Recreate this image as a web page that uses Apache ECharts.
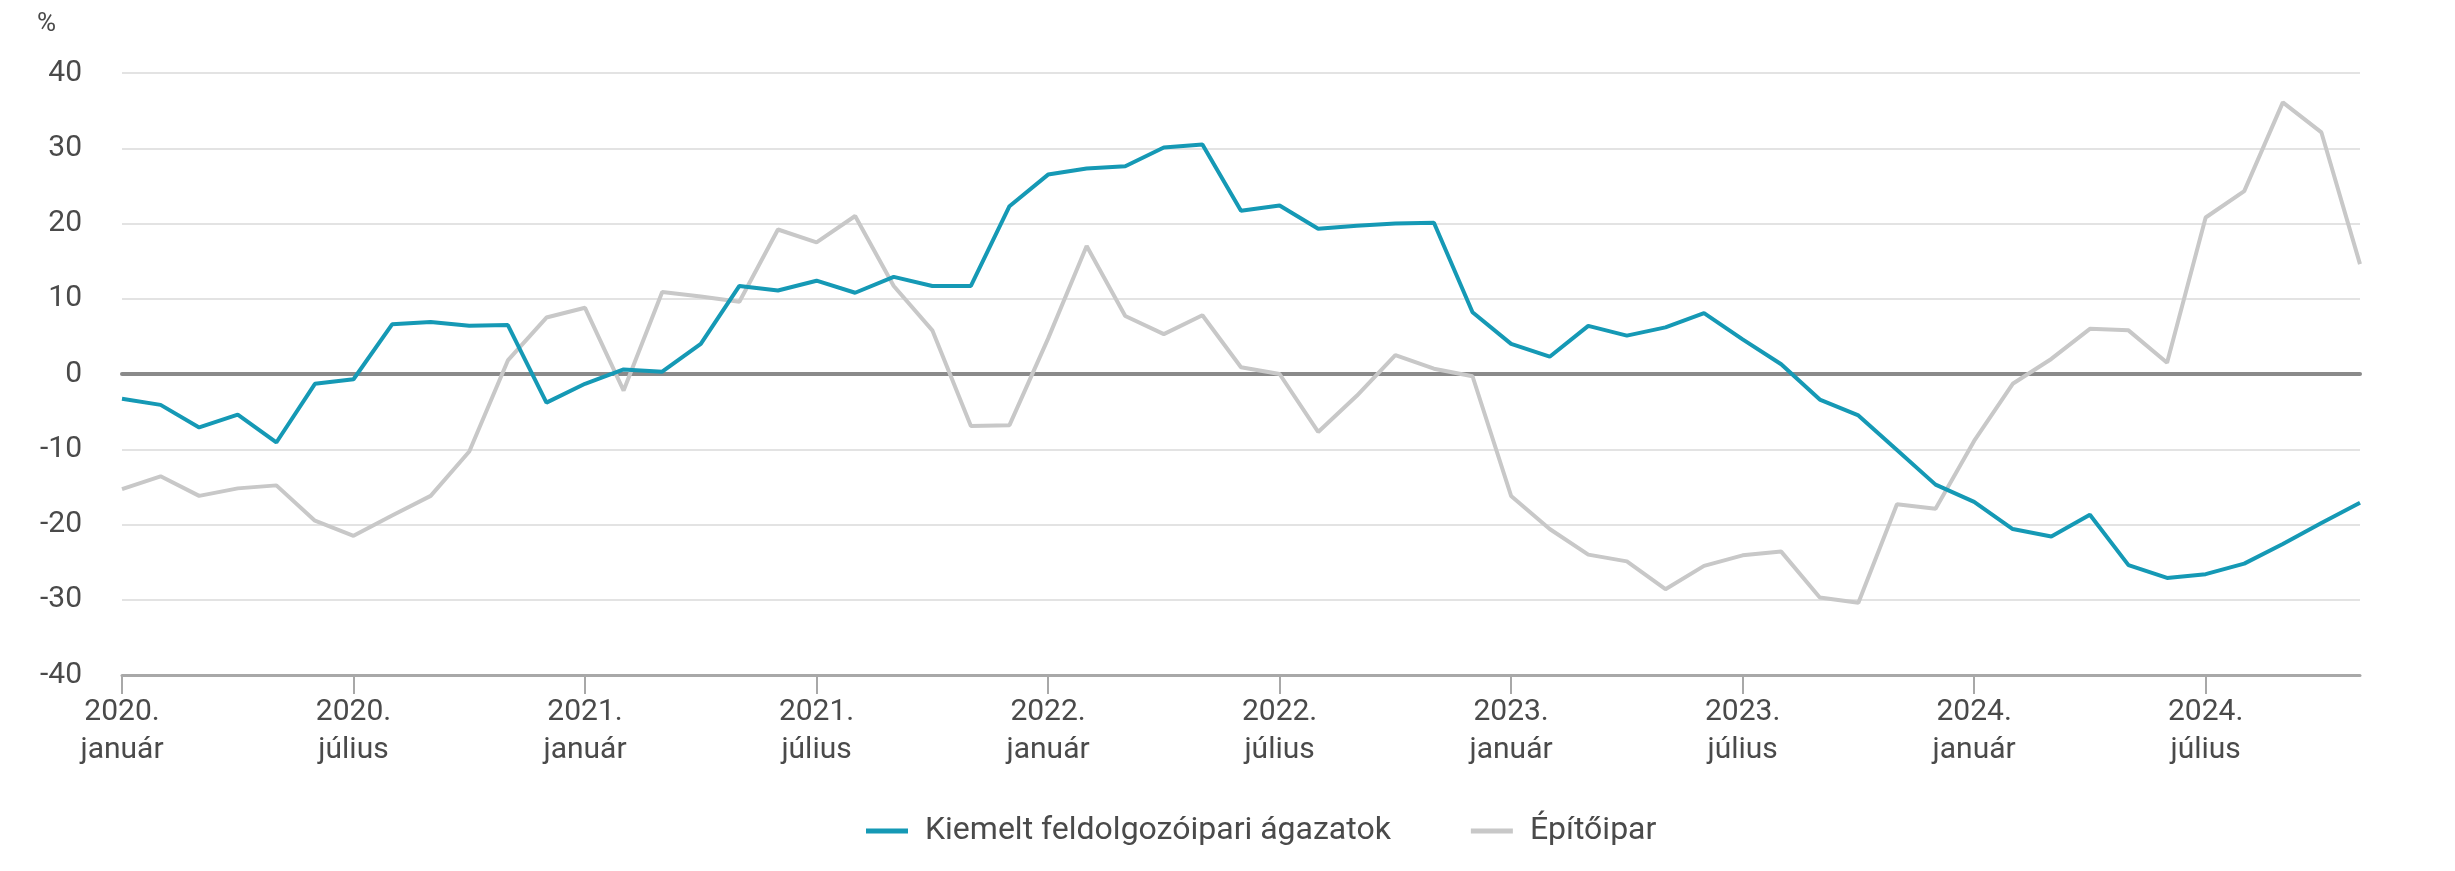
<!DOCTYPE html>
<html>
<head>
<meta charset="utf-8">
<script src="https://cdn.jsdelivr.net/npm/echarts@6/dist/echarts.min.js"></script>
<style>
  html, body { margin: 0; padding: 0; background: #fff; }
  #chart { width: 2455px; height: 871px; }
</style>
</head>
<body>
<div id="chart"></div>
<script>
var years = ['2020', '2021', '2022', '2023', '2024'];
var monthNames = ['január', 'február', 'március', 'április', 'május', 'június',
  'július', 'augusztus', 'szeptember', 'október', 'november', 'december'];
var monthCount = 59; // 2020. január – 2024. november

var categories = [];
for (var i = 0; i < monthCount; i++) {
  categories.push(years[Math.floor(i / 12)] + '.\n' + monthNames[i % 12]);
}

// Kiemelt feldolgozóipari ágazatok
var kiemelt = [-3.3, -4.1, -7.1, -5.4, -9.1, -1.3, -0.7, 6.6, 6.9, 6.4, 6.5, -3.8, -1.3,
  0.6, 0.3, 4.0, 11.7, 11.1, 12.4, 10.8, 12.9, 11.7, 11.7, 22.3, 26.5, 27.3, 27.6, 30.1, 30.5,
  21.7, 22.4, 19.3, 19.7, 20.0, 20.1, 8.2, 4.0, 2.3, 6.4, 5.1, 6.2, 8.1, 4.6, 1.3,
  -3.4, -5.5, -10.1, -14.7, -17.0, -20.6, -21.6, -18.7, -25.4, -27.1, -26.6, -25.2, -22.6, -19.8, -17.1];

// Építőipar
var epitoipar = [-15.3, -13.6, -16.2, -15.2, -14.8, -19.5, -21.5, -18.8, -16.2, -10.3, 1.8, 7.5, 8.8,
  -2.2, 10.9, 10.3, 9.6, 19.2, 17.5, 21.0, 11.7, 5.8, -6.9, -6.8, 4.7, 17.0, 7.7, 5.3, 7.8,
  0.9, 0.0, -7.7, -2.9, 2.5, 0.7, -0.3, -16.2, -20.6, -24.0, -24.9, -28.6, -25.5, -24.1, -23.6,
  -29.7, -30.4, -17.3, -17.9, -8.9, -1.3, 2.0, 6.0, 5.8, 1.5, 20.8, 24.3, 36.1, 32.1, 14.6];

var textColor = '#4a4a4a';
var font = 'Roboto';

var myChart = echarts.init(document.getElementById('chart'));
var options = {
  animation: false,
  textStyle: { fontFamily: font },
  title: {
    text: '%',
    left: 32,
    top: 6,
    textStyle: { fontSize: 26, fontWeight: 'normal', color: textColor, fontFamily: font }
  },
  legend: {
    top: 810,
    left: 861,
    padding: 5,
    icon: 'rect',
    itemWidth: 42,
    itemHeight: 5,
    itemGap: 80,
    textStyle: { fontSize: 32, color: textColor, fontFamily: font, padding: [0, 0, 0, 12] },
    data: ['Kiemelt feldolgozóipari ágazatok', 'Építőipar']
  },
  grid: {
    left: 122,
    right: 95,
    top: 73,
    bottom: 196
  },
  xAxis: [{
    type: 'category',
    data: categories,
    boundaryGap: false,
    axisLine: { onZero: false, lineStyle: { color: '#a8a8a8', width: 3 } },
    axisTick: { show: true, interval: 5, length: 19, lineStyle: { color: '#a8a8a8', width: 2 } },
    axisLabel: {
      interval: 5,
      color: textColor,
      fontSize: 30,
      fontFamily: font,
      lineHeight: 38,
      margin: 18
    },
    splitLine: { show: false }
  }, {
    // zero line
    type: 'category',
    data: categories,
    boundaryGap: false,
    position: 'bottom',
    axisLine: { onZero: true, lineStyle: { color: '#8a8a8a', width: 4 } },
    axisTick: { show: false },
    axisLabel: { show: false },
    splitLine: { show: false }
  }],
  yAxis: {
    type: 'value',
    min: -40,
    max: 40,
    interval: 10,
    axisLine: { show: false },
    axisTick: { show: false },
    axisLabel: { color: textColor, fontSize: 30, fontFamily: font, margin: 40 },
    splitLine: { lineStyle: { color: '#e3e3e3', width: 2 } }
  },
  series: [{
    name: 'Kiemelt feldolgozóipari ágazatok',
    type: 'line',
    data: kiemelt,
    symbol: 'none',
    z: 4,
    itemStyle: { color: '#1599b5' },
    lineStyle: { color: '#1599b5', width: 4 }
  }, {
    name: 'Építőipar',
    type: 'line',
    data: epitoipar,
    symbol: 'none',
    z: 3,
    itemStyle: { color: '#c8c8c8' },
    lineStyle: { color: '#c8c8c8', width: 4 }
  }]
};
myChart.setOption(options);
</script>
</body>
</html>
